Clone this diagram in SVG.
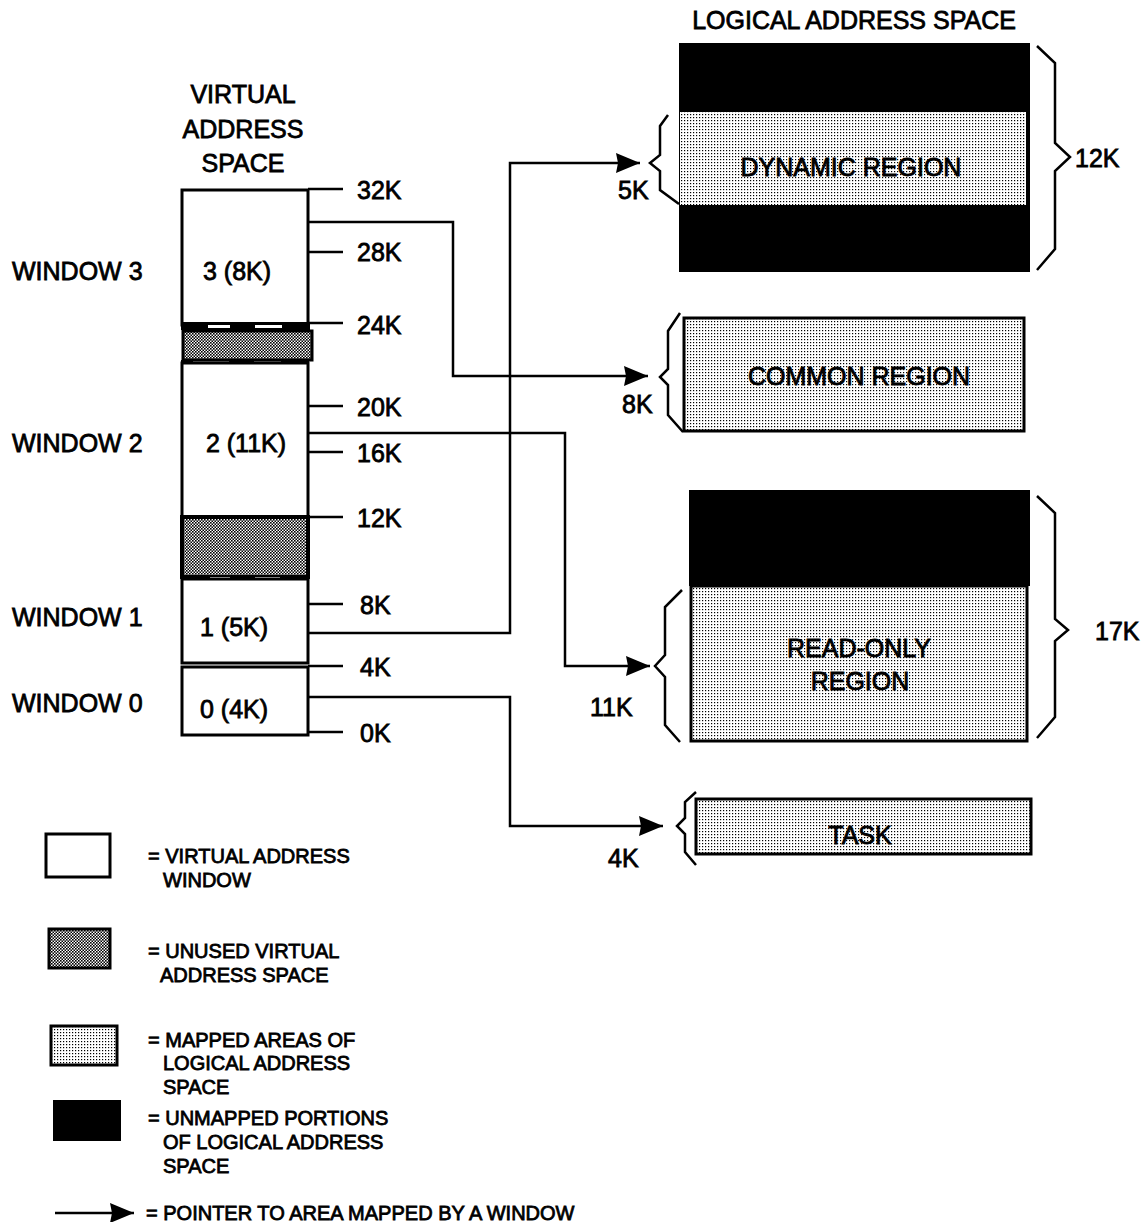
<svg xmlns="http://www.w3.org/2000/svg" width="1145" height="1222" viewBox="0 0 1145 1222">
<defs>
  <pattern id="light" width="3" height="3" patternUnits="userSpaceOnUse">
    <rect width="3" height="3" fill="#fff"/>
    <rect width="1.2" height="1.2" fill="#000"/>
  </pattern>
  <pattern id="dark" width="3" height="3" patternUnits="userSpaceOnUse">
    <rect width="3" height="3" fill="#fff"/>
    <rect width="1.6" height="1.6" fill="#000"/>
    <rect x="1.5" y="1.5" width="1.6" height="1.6" fill="#000"/>
  </pattern>
  <marker id="arr" markerUnits="userSpaceOnUse" markerWidth="26" markerHeight="22" refX="24" refY="10" orient="auto">
    <path d="M0,0 L24,10 L0,20 L2,10 z" fill="#000"/>
  </marker>
</defs>
<style>
  text { font-family: "Liberation Sans", Arial, Helvetica, sans-serif; fill: #000; stroke: #000; stroke-width: 0.8; }
  .t { font-size: 25px; }
  .c { text-anchor: middle; }
  .lg { font-size: 20px; }
  .box { stroke: #000; stroke-width: 3; }
  .win { fill: #fff; stroke: #000; stroke-width: 3; }
  .tick { stroke: #000; stroke-width: 2.5; fill: none; }
  .conn { stroke: #000; stroke-width: 2.5; fill: none; }
  .brace { stroke: #000; stroke-width: 2.5; fill: none; stroke-linejoin: miter; }
</style>
<rect width="1145" height="1222" fill="#fff"/>

<!-- titles -->
<g id="title-virtual">
  <text class="t c" x="243" y="103">VIRTUAL</text>
  <text class="t c" x="243" y="138">ADDRESS</text>
  <text class="t c" x="243" y="172">SPACE</text>
</g>
<g id="title-logical">
  <text class="t c" x="854" y="29">LOGICAL ADDRESS SPACE</text>
</g>

<!-- window labels -->
<g id="window-labels">
  <text class="t" x="12" y="280">WINDOW 3</text>
  <text class="t" x="12" y="452">WINDOW 2</text>
  <text class="t" x="12" y="626">WINDOW 1</text>
  <text class="t" x="12" y="712">WINDOW 0</text>
</g>

<!-- virtual address space column -->
<g id="window3">
  <rect class="win" x="182" y="190" width="126" height="135"/>
  <text class="t c" x="237" y="280">3 (8K)</text>
</g>
<g id="unused-upper">
  <rect x="181" y="322" width="129" height="8" fill="#000"/>
  <rect x="208" y="325" width="22" height="3" fill="#fff"/>
  <rect x="255" y="325" width="27" height="3" fill="#fff"/>
  <rect x="183" y="331" width="129" height="29" fill="url(#dark)" stroke="#000" stroke-width="3"/>
  <rect x="181" y="360" width="12" height="5" fill="#000"/>
  <rect x="229" y="360" width="25" height="5" fill="#000"/>
  <rect x="281" y="360" width="28" height="5" fill="#000"/>
</g>
<g id="window2">
  <rect class="win" x="182" y="363" width="126" height="154"/>
  <text class="t c" x="246" y="452">2 (11K)</text>
</g>
<g id="unused-lower">
  <rect x="182" y="517" width="126" height="60" fill="url(#dark)" stroke="#000" stroke-width="4"/>
  <rect x="210" y="577" width="20" height="2" fill="#fff"/>
  <rect x="255" y="577" width="25" height="2" fill="#fff"/>
</g>
<g id="window1">
  <rect class="win" x="182" y="579" width="126" height="84"/>
  <text class="t c" x="234" y="636">1 (5K)</text>
</g>
<g id="window0">
  <rect class="win" x="182" y="667" width="126" height="68"/>
  <text class="t c" x="234" y="718">0 (4K)</text>
</g>

<!-- address ticks -->
<g id="ticks">
  <path class="tick" d="M308,189 H343 M308,252 H343 M308,323 H343 M308,406 H343 M308,452 H343 M308,517 H343 M308,604 H343 M308,666 H343 M308,732 H343"/>
  <text class="t" x="357" y="199">32K</text>
  <text class="t" x="357" y="261">28K</text>
  <text class="t" x="357" y="334">24K</text>
  <text class="t" x="357" y="416">20K</text>
  <text class="t" x="357" y="462">16K</text>
  <text class="t" x="357" y="527">12K</text>
  <text class="t" x="360" y="614">8K</text>
  <text class="t" x="360" y="676">4K</text>
  <text class="t" x="360" y="742">0K</text>
</g>

<!-- logical regions -->
<g id="dynamic-region">
  <rect x="679" y="43" width="351" height="229" fill="#000"/>
  <rect x="680" y="112" width="346" height="93" fill="url(#light)"/>
  <text class="t c" x="851" y="176">DYNAMIC REGION</text>
  <path class="brace" d="M668,115 L660,126 L660,155 L650,163 L660,171 L660,190 L679,204"/>
  <text class="t" x="618" y="199">5K</text>
  <path class="brace" d="M1037,46 L1055,63 L1055,143 L1070,157 L1055,171 L1055,249 L1037,270"/>
  <text class="t" x="1075" y="167">12K</text>
</g>
<g id="common-region">
  <rect class="box" x="684" y="318" width="340" height="113" fill="url(#light)"/>
  <text class="t c" x="859" y="385">COMMON REGION</text>
  <path class="brace" d="M680,313 L668,331 L668,369 L660,377 L668,385 L668,415 L683,432"/>
  <text class="t" x="622" y="413">8K</text>
</g>
<g id="readonly-region">
  <rect x="689" y="490" width="341" height="96" fill="#000"/>
  <rect class="box" x="691" y="586" width="336" height="155" fill="url(#light)"/>
  <text class="t c" x="859" y="657">READ-ONLY</text>
  <text class="t c" x="860" y="690">REGION</text>
  <path class="brace" d="M682,590 L665,607 L665,655 L655,666 L665,677 L665,725 L680,742"/>
  <text class="t" x="590" y="716">11K</text>
  <path class="brace" d="M1037,496 L1055,513 L1055,619 L1068,630 L1055,641 L1055,717 L1037,738"/>
  <text class="t" x="1095" y="640">17K</text>
</g>
<g id="task-region">
  <rect class="box" x="696" y="799" width="335" height="55" fill="url(#light)"/>
  <text class="t c" x="860" y="844">TASK</text>
  <path class="brace" d="M696,792 L685,802 L685,818 L677,826 L685,834 L685,852 L696,865"/>
  <text class="t" x="608" y="867">4K</text>
</g>

<!-- connectors -->
<g id="connectors">
  <path class="conn" d="M308,222 H453 V376 H648" marker-end="url(#arr)"/>
  <path class="conn" d="M308,633 H510 V163 H640" marker-end="url(#arr)"/>
  <path class="conn" d="M308,433 H565 V666 H650" marker-end="url(#arr)"/>
  <path class="conn" d="M308,697 H510 V826 H663" marker-end="url(#arr)"/>
</g>

<!-- legend -->
<g id="legend-window">
  <rect class="win" x="46" y="834" width="64" height="43"/>
  <text class="lg" x="148" y="863">= VIRTUAL ADDRESS</text>
  <text class="lg" x="163" y="887">WINDOW</text>
</g>
<g id="legend-unused">
  <rect x="49" y="929" width="61" height="39" fill="url(#dark)" stroke="#000" stroke-width="3"/>
  <text class="lg" x="148" y="958">= UNUSED VIRTUAL</text>
  <text class="lg" x="160" y="982">ADDRESS SPACE</text>
</g>
<g id="legend-mapped">
  <rect x="51" y="1026" width="66" height="39" fill="url(#light)" stroke="#000" stroke-width="3"/>
  <text class="lg" x="148" y="1047">= MAPPED AREAS OF</text>
  <text class="lg" x="163" y="1070">LOGICAL ADDRESS</text>
  <text class="lg" x="163" y="1094">SPACE</text>
</g>
<g id="legend-unmapped">
  <rect x="53" y="1100" width="68" height="41" fill="#000"/>
  <text class="lg" x="148" y="1125">= UNMAPPED PORTIONS</text>
  <text class="lg" x="163" y="1149">OF LOGICAL ADDRESS</text>
  <text class="lg" x="163" y="1173">SPACE</text>
</g>
<g id="legend-pointer">
  <path class="conn" d="M55,1213 H134" marker-end="url(#arr)"/>
  <text class="lg" x="146" y="1220">= POINTER TO AREA MAPPED BY A WINDOW</text>
</g>
</svg>
